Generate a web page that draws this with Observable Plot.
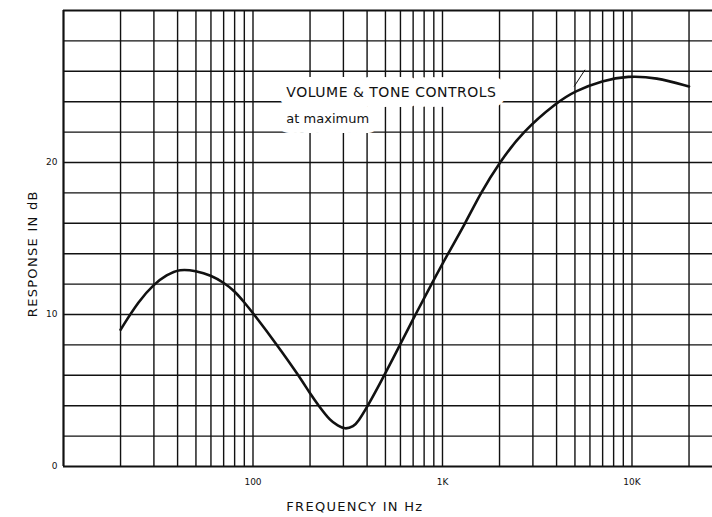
<!DOCTYPE html>
<html>
<head>
<meta charset="utf-8">
<script src="https://cdn.jsdelivr.net/npm/d3@7"></script>
<script src="https://cdn.jsdelivr.net/npm/@observablehq/plot@0.6"></script>
<style>
  html, body { margin: 0; padding: 0; background: #fff; }
  svg { display: block; }
</style>
</head>
<body>
<div id="chart"></div>
<script>
// Response curve (frequency in Hz, response in dB)
const freq = [20, 25, 30, 35, 41, 50, 60, 70, 80, 90, 100, 134, 174, 200, 222, 256, 280, 306, 340, 358, 404, 470, 597, 720, 875, 1068, 1320, 1590, 2000, 2630, 4050, 5000, 7000, 9500, 13400, 20000];
const db   = [9.0, 10.9, 12.0, 12.6, 13.0, 12.87, 12.58, 12.1, 11.55, 10.8, 10.1, 8.0, 6.0, 4.8, 4.0, 3.0, 2.7, 2.43, 2.65, 2.93, 4.0, 5.5, 8.0, 10.0, 12.0, 14.0, 16.0, 18.0, 20.0, 22.0, 24.0, 24.7, 25.4, 25.7, 25.6, 25.0];

// Grid
const vGrid = [20, 30, 40, 50, 60, 70, 80, 90, 100, 200, 300, 400, 500, 600, 700, 800, 900, 1000, 2000, 3000, 4000, 5000, 6000, 7000, 8000, 9000, 10000, 20000];
const hGrid = [2, 4, 6, 8, 10, 12, 14, 16, 18, 20, 22, 24, 26, 28];
const xTicks = [100, 1000, 10000];
const xTickLabels = ["100", "1K", "10K"];
const yTicks = [0, 10, 20];

// Texts
const xTitle = "FREQUENCY IN Hz";
const yTitle = "RESPONSE IN dB";
const noteLines = ["VOLUME & TONE CONTROLS", "at maximum"];
const noteFreq = [150, 150];
const noteDb = [24.6, 22.9];
const noteSize = [14, 13];
const leader = [{f1: 4950, d1: 25.0, f2: 5650, d2: 26.1}];

const curve = freq.map((f, i) => ({f, d: db[i]}));
const notes = noteLines.map((t, i) => ({t, f: noteFreq[i], d: noteDb[i], s: noteSize[i]}));
const labelMap = new Map(xTicks.map((t, i) => [t, xTickLabels[i]]));

const font = "'DejaVu Sans', 'Liberation Sans', sans-serif";
const ink = "#111";

const chart = Plot.plot({
  width: 712,
  height: 517,
  marginLeft: 63,
  marginRight: 0,
  marginTop: 10,
  marginBottom: 51,
  style: {fontFamily: font, color: ink, background: "#fff"},
  x: {type: "log", domain: [10, 26600]},
  y: {domain: [0, 30]},
  marks: [
    Plot.ruleY(hGrid, {stroke: ink, strokeWidth: 1.4}),
    Plot.ruleX(vGrid, {stroke: ink, strokeWidth: 1.4}),
    Plot.ruleY([0, 30], {stroke: ink, strokeWidth: 2.2}),
    Plot.ruleX([10], {stroke: ink, strokeWidth: 2.2}),
    Plot.text(notes, {x: "f", y: "d", text: "t", textAnchor: "start", fontSize: (d) => d.s,
      fill: ink, stroke: "white", strokeWidth: 20, strokeLinejoin: "round", paintOrder: "stroke"}),
    Plot.link(leader, {x1: "f1", y1: "d1", x2: "f2", y2: "d2", stroke: ink, strokeWidth: 1}),
    Plot.line(curve, {x: "f", y: "d", curve: "basis", stroke: ink, strokeWidth: 2.6}),
    Plot.axisX(xTicks, {tickSize: 0, tickPadding: 12, fontSize: 9, label: null,
      tickFormat: (d) => labelMap.get(d)}),
    Plot.axisY(yTicks, {tickSize: 0, tickPadding: 6, fontSize: 9, label: null}),
    Plot.text([xTitle], {x: () => 345, frameAnchor: "bottom", dy: 44, fontSize: 13, fill: ink, text: (d) => d}),
    Plot.text([yTitle], {y: () => 14, frameAnchor: "left", textAnchor: "middle", dx: -31, rotate: -90, fontSize: 13, fill: ink, text: (d) => d})
  ]
});
const svg = d3.select(chart);
svg.selectAll("text").filter(function() {
  const t = this.textContent;
  return t === xTitle || t === yTitle;
}).attr("letter-spacing", "1.3px");
svg.selectAll("text").filter(function() {
  return this.textContent === noteLines[0];
}).attr("letter-spacing", "0.5px");
document.getElementById("chart").appendChild(chart);
</script>
</body>
</html>
